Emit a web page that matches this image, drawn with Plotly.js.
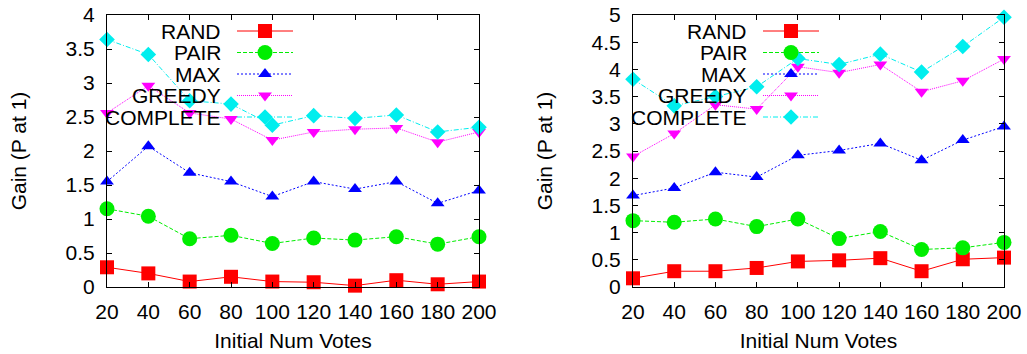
<!DOCTYPE html>
<html>
<head>
<meta charset="utf-8">
<script src="https://cdn.plot.ly/plotly-3.0.1.min.js"></script>
<style>html,body{margin:0;padding:0;background:#fff;}#chart{width:1027px;height:354px;}</style>
</head>
<body>
<div id="chart"></div>
<script>
const votes = [20, 40, 60, 80, 100, 120, 140, 160, 180, 200];
const seriesNames = ["RAND", "PAIR", "MAX", "GREEDY", "COMPLETE"];

// Left panel
const leftRAND     = [0.29, 0.20, 0.08, 0.15, 0.08, 0.07, 0.02, 0.10, 0.04, 0.08];
const leftPAIR     = [1.15, 1.04, 0.71, 0.76, 0.64, 0.72, 0.69, 0.74, 0.63, 0.74];
const leftMAX      = [1.55, 2.07, 1.68, 1.55, 1.33, 1.55, 1.44, 1.55, 1.23, 1.42];
const leftGREEDY   = [2.56, 2.96, 2.56, 2.47, 2.16, 2.28, 2.32, 2.34, 2.13, 2.28];
const leftCOMPLETE = [3.64, 3.42, 2.74, 2.69, 2.38, 2.52, 2.48, 2.53, 2.28, 2.35];

// Right panel
const rightRAND     = [0.16, 0.29, 0.29, 0.35, 0.47, 0.49, 0.53, 0.29, 0.51, 0.54];
const rightPAIR     = [1.22, 1.19, 1.25, 1.11, 1.25, 0.89, 1.02, 0.69, 0.72, 0.82];
const rightMAX      = [1.68, 1.82, 2.11, 2.02, 2.42, 2.51, 2.64, 2.33, 2.70, 2.95];
const rightGREEDY   = [2.40, 2.82, 3.35, 3.27, 4.05, 3.94, 4.09, 3.59, 3.79, 4.19];
const rightCOMPLETE = [3.82, 3.33, 3.50, 3.68, 4.20, 4.09, 4.28, 3.95, 4.42, 4.96];

const leftData  = [leftRAND, leftPAIR, leftMAX, leftGREEDY, leftCOMPLETE];
const rightData = [rightRAND, rightPAIR, rightMAX, rightGREEDY, rightCOMPLETE];

const colors  = ["#ff0000", "#00ee00", "#0000ff", "#ff00ff", "#00eeee"];
const symbols = ["square", "circle", "triangle-up", "triangle-down", "diamond"];
const msizes  = [14, 15, 12, 12, 12];
const dashes  = ["solid", "4px,2px", "2px,2px", "1px,1px", "5px,2px,1px,2px"];

const W = 1027, H = 354;
const plotTop = 15, plotBottom = 287;
const leftX = [107, 479], rightX = [633, 1004];
const FONT = "Liberation Sans, Arial, Helvetica, sans-serif";
const FS = 21;

const traces = [];
const rowY = [16, 37.5, 59, 80.5, 102];
function addPanel(data, xa, ya, xl, yl) {
  data.forEach((vals, i) => {
    traces.push({
      x: votes, y: vals, xaxis: xa, yaxis: ya, type: "scatter", mode: "lines+markers",
      cliponaxis: false, showlegend: false, name: seriesNames[i],
      line: {color: colors[i], width: 1, dash: dashes[i]},
      marker: {symbol: symbols[i], size: msizes[i], color: colors[i], line: {width: 0}}
    });
  });
  // key samples (overlay pixel axes)
  seriesNames.forEach((n, i) => {
    traces.push({
      x: [130, 186], y: [rowY[i], rowY[i]], xaxis: xl, yaxis: yl, type: "scatter", mode: "lines",
      cliponaxis: false, showlegend: false, hoverinfo: "skip",
      line: {color: colors[i], width: 1, dash: dashes[i]}
    });
    traces.push({
      x: [158], y: [rowY[i]], xaxis: xl, yaxis: yl, type: "scatter", mode: "markers",
      cliponaxis: false, showlegend: false, hoverinfo: "skip",
      marker: {symbol: symbols[i], size: msizes[i], color: colors[i], line: {width: 0}}
    });
  });
}
addPanel(leftData, "x", "y", "x3", "y3");
addPanel(rightData, "x2", "y2", "x4", "y4");

const yDom = [(H - plotBottom) / H, (H - plotTop) / H];
const dL = [leftX[0] / W, leftX[1] / W];
const dR = [rightX[0] / W, rightX[1] / W];

function xAxis(dom, anchor) {
  return {
    domain: dom, anchor: anchor, range: [20, 200], tickvals: votes, ticktext: votes.map(String),
    ticks: "inside", ticklen: 5, tickcolor: "#000", mirror: "ticks", showline: true,
    linecolor: "#000", linewidth: 1, showgrid: false, zeroline: false,
    tickfont: {family: FONT, size: FS, color: "#000"}, ticklabelstandoff: 6,
    title: {text: "Initial Num Votes", font: {family: FONT, size: FS, color: "#000"}, standoff: 11},
    automargin: false, fixedrange: true
  };
}
function yAxis(range, anchor) {
  return {
    domain: yDom, anchor: anchor, range: range, dtick: 0.5, tick0: 0,
    ticks: "inside", ticklen: 5, tickcolor: "#000", mirror: "ticks", showline: true,
    linecolor: "#000", linewidth: 1, showgrid: false, zeroline: false,
    tickfont: {family: FONT, size: FS, color: "#000"}, ticklabelstandoff: 7,
    title: {text: "Gain (P at 1)", font: {family: FONT, size: FS, color: "#000"}, standoff: 33},
    automargin: false, fixedrange: true
  };
}
function overlayX(over, dom, px) {
  return {overlaying: over, domain: dom, range: [0, px], visible: false, fixedrange: true, anchor: "free"};
}
function overlayY(over) {
  return {overlaying: over, domain: yDom, range: [plotBottom - plotTop, 0], visible: false, fixedrange: true, anchor: "free"};
}

const annotations = [];
[["x3", "y3"], ["x4", "y4"]].forEach(([xr, yr]) => {
  seriesNames.forEach((n, i) => {
    annotations.push({
      x: 116, y: rowY[i], xref: xr, yref: yr, text: n, showarrow: false,
      xanchor: "right", yanchor: "middle", font: {family: FONT, size: FS, color: "#000"}
    });
  });
});

const layout = {
  width: W, height: H, margin: {l: 0, r: 0, t: 0, b: 0},
  paper_bgcolor: "#fff", plot_bgcolor: "#fff", showlegend: false,
  font: {family: FONT, size: FS, color: "#000"},
  xaxis: xAxis(dL, "y"), yaxis: yAxis([0, 4], "x"),
  xaxis2: xAxis(dR, "y2"), yaxis2: yAxis([0, 5], "x2"),
  xaxis3: overlayX("x", dL, leftX[1] - leftX[0]), yaxis3: overlayY("y"),
  xaxis4: overlayX("x2", dR, rightX[1] - rightX[0]), yaxis4: overlayY("y2"),
  annotations: annotations
};

Plotly.newPlot("chart", traces, layout, {staticPlot: true, displayModeBar: false});
</script>
</body>
</html>
